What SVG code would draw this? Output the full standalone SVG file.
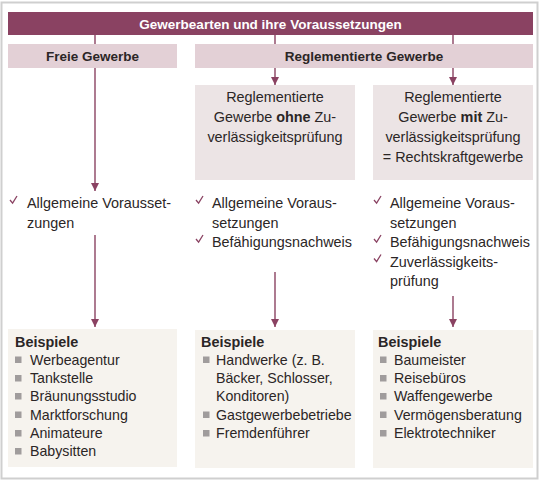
<svg xmlns="http://www.w3.org/2000/svg" width="541" height="484" viewBox="0 0 541 484">
  <defs>
    <marker id="arrow" viewBox="0 0 8 8" refX="8" refY="4" markerWidth="8" markerHeight="8" markerUnits="userSpaceOnUse" orient="auto">
      <path d="M0,0 L8,4 L0,8 Z" fill="#8a4262"/>
    </marker>
    <path id="tick" d="M0,-4 L2.6,-0.8 L7,-8" fill="none" stroke="#8a4262" stroke-width="1.3"/>
    <rect id="sq" x="0" y="-8" width="6.5" height="6.5" fill="#a09c9c"/>
  </defs>
  <style>
    text { font-family: "Liberation Sans", Arial, sans-serif; fill: #2b2626; }
    .title { font-size: 13.5px; font-weight: bold; fill: #ffffff; }
    .head { font-size: 13.5px; font-weight: bold; }
    .t { font-size: 14.4px; }
    .li { font-size: 14.2px; }
    .b { font-weight: bold; }
    .bar { fill: #8a4262; }
    .cat { fill: #e3d0d6; }
    .sub { fill: #ece4e5; }
    .ex { fill: #f6f3ee; }
    .conn { stroke: #8a4262; stroke-width: 1.4; fill: none; }
  </style>

  <!-- frame -->
  <rect x="1.5" y="2.5" width="536" height="476" fill="#ffffff" stroke="#cfcfcf" stroke-width="2"/>

  <!-- connectors -->
  <g id="connectors">
    <line class="conn" x1="95" y1="35" x2="95" y2="44"/>
    <line class="conn" x1="275" y1="35" x2="275" y2="44"/>
    <line class="conn" x1="453" y1="35" x2="453" y2="44"/>
    <line class="conn" x1="95" y1="68" x2="95" y2="191" marker-end="url(#arrow)"/>
    <line class="conn" x1="275" y1="68" x2="275" y2="85" marker-end="url(#arrow)"/>
    <line class="conn" x1="453" y1="68" x2="453" y2="85" marker-end="url(#arrow)"/>
    <line class="conn" x1="95" y1="235" x2="95" y2="327" marker-end="url(#arrow)"/>
    <line class="conn" x1="275" y1="272" x2="275" y2="327" marker-end="url(#arrow)"/>
    <line class="conn" x1="453" y1="296" x2="453" y2="327" marker-end="url(#arrow)"/>
  </g>

  <!-- title -->
  <g id="title">
    <rect class="bar" x="8" y="12" width="525" height="23"/>
    <text class="title" x="270.5" y="28.5" text-anchor="middle">Gewerbearten und ihre Voraussetzungen</text>
  </g>

  <g id="freie">
    <rect class="cat" x="8" y="44" width="169" height="24"/>
    <text class="head" x="92.5" y="61" text-anchor="middle">Freie Gewerbe</text>
  </g>

  <g id="reglementiert">
    <rect class="cat" x="195" y="44" width="338" height="24"/>
    <text class="head" x="364" y="61" text-anchor="middle">Reglementierte Gewerbe</text>
  </g>

  <g id="ohne">
    <rect class="sub" x="195" y="85" width="160" height="95"/>
    <text class="t" x="275" y="102" text-anchor="middle">Reglementierte</text>
    <text class="t" x="275" y="122" text-anchor="middle">Gewerbe <tspan class="b">ohne</tspan> Zu-</text>
    <text class="t" x="275" y="142" text-anchor="middle">verlässigkeitsprüfung</text>
  </g>

  <g id="mit">
    <rect class="sub" x="373" y="85" width="160" height="95"/>
    <text class="t" x="453" y="102" text-anchor="middle">Reglementierte</text>
    <text class="t" x="453" y="122" text-anchor="middle">Gewerbe <tspan class="b">mit</tspan> Zu-</text>
    <text class="t" x="453" y="142" text-anchor="middle">verlässigkeitsprüfung</text>
    <text class="t" x="453" y="162" text-anchor="middle">= Rechtskraftgewerbe</text>
  </g>

  <!-- requirements -->
  <g id="req-freie">
    <use href="#tick" x="10" y="204"/>
    <text class="t" x="27" y="208">Allgemeine Vorausset-</text>
    <text class="t" x="27" y="227.5">zungen</text>
  </g>

  <g id="req-ohne">
    <use href="#tick" x="196" y="204"/>
    <text class="t" x="212" y="208">Allgemeine Voraus-</text>
    <text class="t" x="212" y="227.5">setzungen</text>
    <use href="#tick" x="196" y="243"/>
    <text class="t" x="212" y="247">Befähigungsnachweis</text>
  </g>

  <g id="req-mit">
    <use href="#tick" x="374" y="204"/>
    <text class="t" x="390" y="208">Allgemeine Voraus-</text>
    <text class="t" x="390" y="227.5">setzungen</text>
    <use href="#tick" x="374" y="243"/>
    <text class="t" x="390" y="247">Befähigungsnachweis</text>
    <use href="#tick" x="374" y="262.5"/>
    <text class="t" x="390" y="266.5">Zuverlässigkeits-</text>
    <text class="t" x="390" y="286">prüfung</text>
  </g>

  <!-- examples -->
  <g id="bsp-freie">
    <rect class="ex" x="8" y="329" width="169" height="138"/>
    <text class="t b" x="15" y="347">Beispiele</text>
    <use href="#sq" x="15" y="364.5"/><text class="li" x="30" y="364.5">Werbeagentur</text>
    <use href="#sq" x="15" y="383"/><text class="li" x="30" y="383">Tankstelle</text>
    <use href="#sq" x="15" y="401"/><text class="li" x="30" y="401">Bräunungsstudio</text>
    <use href="#sq" x="15" y="419.5"/><text class="li" x="30" y="419.5">Marktforschung</text>
    <use href="#sq" x="15" y="438"/><text class="li" x="30" y="438">Animateure</text>
    <use href="#sq" x="15" y="456"/><text class="li" x="30" y="456">Babysitten</text>
  </g>

  <g id="bsp-ohne">
    <rect class="ex" x="195" y="330" width="160" height="138"/>
    <text class="t b" x="201" y="347">Beispiele</text>
    <use href="#sq" x="203" y="364.5"/><text class="li" x="216" y="364.5">Handwerke (z. B.</text>
    <text class="li" x="216" y="383">Bäcker, Schlosser,</text>
    <text class="li" x="216" y="401">Konditoren)</text>
    <use href="#sq" x="203" y="419.5"/><text class="li" x="216" y="419.5">Gastgewerbebetriebe</text>
    <use href="#sq" x="203" y="438"/><text class="li" x="216" y="438">Fremdenführer</text>
  </g>

  <g id="bsp-mit">
    <rect class="ex" x="373" y="330" width="160" height="138"/>
    <text class="t b" x="378" y="347">Beispiele</text>
    <use href="#sq" x="380" y="364.5"/><text class="li" x="394" y="364.5">Baumeister</text>
    <use href="#sq" x="380" y="383"/><text class="li" x="394" y="383">Reisebüros</text>
    <use href="#sq" x="380" y="401"/><text class="li" x="394" y="401">Waffengewerbe</text>
    <use href="#sq" x="380" y="419.5"/><text class="li" x="394" y="419.5">Vermögensberatung</text>
    <use href="#sq" x="380" y="438"/><text class="li" x="394" y="438">Elektrotechniker</text>
  </g>
</svg>
